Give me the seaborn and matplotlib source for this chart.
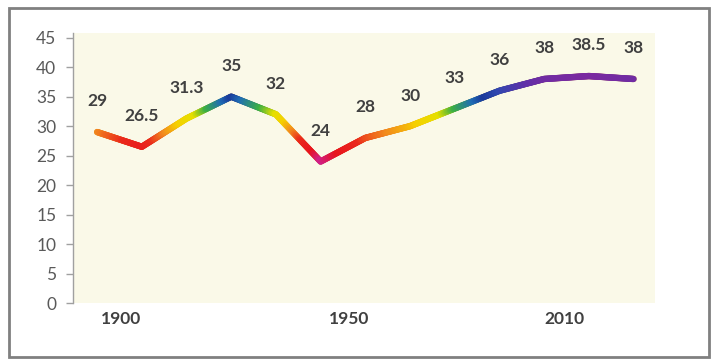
import numpy as np
import matplotlib.pyplot as plt
import seaborn as sns
from matplotlib.collections import LineCollection
from matplotlib.colors import LinearSegmentedColormap, Normalize
from matplotlib.patches import Rectangle

# ----------------------------
# Data
# ----------------------------
values = [29, 26.5, 31.3, 35, 32, 24, 28, 30, 33, 36, 38, 38.5, 38]
value_labels = ["29", "26.5", "31.3", "35", "32", "24", "28", "30", "33", "36", "38", "38.5", "38"]
year_labels = ["1900", "1950", "2010"]
year_ticks = [0.54, 5.64, 10.45]
y_ticks = list(range(0, 50, 5))

# rainbow keyed on the value
cmap_stops = [(24, "#d0208a"), (25.5, "#e8141e"), (27.5, "#ea2a1c"), (29, "#f28a1e"),
              (30.5, "#f6d000"), (32, "#e6e000"), (33, "#3cb043"), (34.3, "#1f6db5"),
              (35, "#1a3a9a"), (36, "#3048b0"), (37.3, "#6030a8"), (38.5, "#7a2aa0")]

sns.set_theme(style="white")
plt.rcParams["font.family"] = ["Lato", "DejaVu Sans"]

fig = plt.figure(figsize=(7.12, 3.59), dpi=100)
ax = fig.add_axes([73 / 712, (359 - 303) / 359, (655 - 73) / 712, (303 - 33) / 359])
ax.set_facecolor("#faf9e8")

idx = np.arange(len(values))
sns.lineplot(x=idx, y=values, ax=ax, color="#e0a030", linewidth=4.5, zorder=2)

# gradient overlay
lo, hi = cmap_stops[0][0], cmap_stops[-1][0]
cmap = LinearSegmentedColormap.from_list(
    "rb", [((v - lo) / (hi - lo), c) for v, c in cmap_stops])
norm = Normalize(lo, hi)
segs, cols = [], []
for i in range(len(values) - 1):
    t = np.linspace(0, 1, 40)
    xs = idx[i] + t
    ys = values[i] + t * (values[i + 1] - values[i])
    for k in range(len(t) - 1):
        segs.append([(xs[k], ys[k]), (xs[k + 1], ys[k + 1])])
        cols.append(cmap(norm((ys[k] + ys[k + 1]) / 2)))
lc = LineCollection(segs, colors=cols, linewidths=4.6, capstyle="round", joinstyle="round", zorder=3)
ax.add_collection(lc)

for i, (v, lab) in enumerate(zip(values, value_labels)):
    ax.annotate(lab, (i, v), xytext=(0, 22), textcoords="offset points",
                ha="center", va="center", fontsize=12.5, fontweight="bold", color="#404040")

ax.set_xlim(-0.54, 12.48)
ax.set_ylim(0, 45.8)
ax.set_yticks(y_ticks)
ax.set_yticklabels([str(t) for t in y_ticks], fontsize=12.5, color="#595959")
ax.set_xticks(year_ticks)
ax.set_xticklabels(year_labels, fontsize=12.5, fontweight="bold", color="#404040")
ax.tick_params(axis="y", direction="out", length=5, width=1, color="#a0a0a0", left=True, pad=7)
ax.tick_params(axis="x", length=0, pad=6)
for s in ["top", "right", "bottom"]:
    ax.spines[s].set_visible(False)
ax.spines["left"].set_color("#a0a0a0")
ax.spines["left"].set_linewidth(1)
ax.grid(False)

fig.patches.append(Rectangle((9 / 712, 2 / 359), 700 / 712, 349 / 359, transform=fig.transFigure,
                             fill=False, edgecolor="#808080", linewidth=2))

fig.savefig("out.png", dpi=100)
